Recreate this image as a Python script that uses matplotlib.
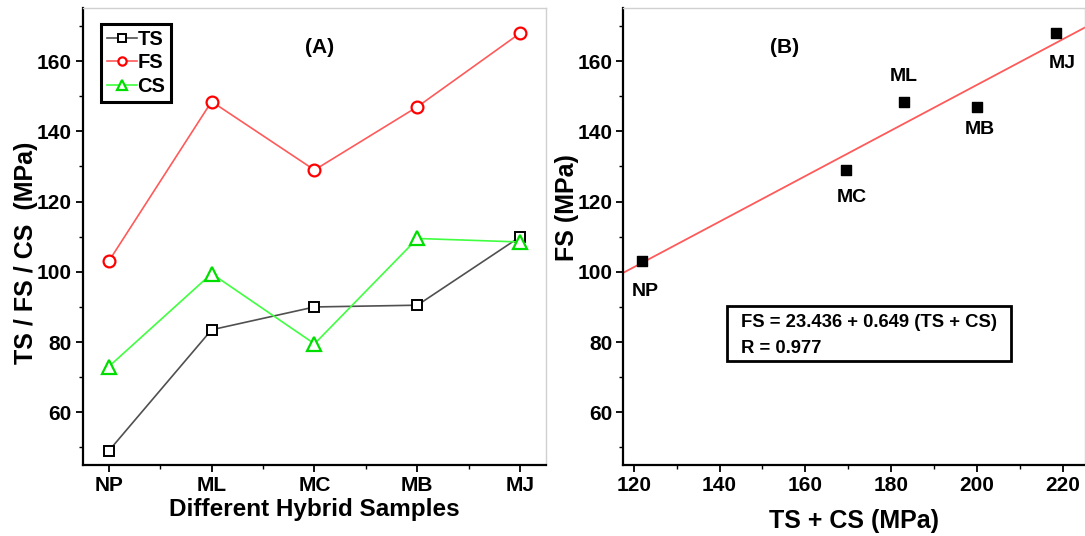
import numpy as np
import matplotlib.pyplot as plt
from matplotlib.ticker import MultipleLocator
from matplotlib.patches import Rectangle

plt.rcParams['font.family'] = ['Liberation Sans', 'DejaVu Sans']
plt.rcParams['font.weight'] = 'bold'

# data
samples = ["NP", "ML", "MC", "MB", "MJ"]
ts = [49, 83.5, 90, 90.5, 110]
fs = [103, 148.5, 129, 147, 168]
cs = [73, 99.5, 79.5, 109.5, 108.5]
fit_a, fit_b = 23.436, 0.649
fit_r = 0.977

ts_cs = np.array(ts) + np.array(cs)

fig = plt.figure(figsize=(10.85, 5.36), dpi=100)
ax1 = fig.add_axes([0.0765, 0.1325, 0.4267, 0.8517])
ax2 = fig.add_axes([0.5746, 0.1325, 0.4250, 0.8517])


def style(ax):
    for s in ["left", "bottom"]:
        ax.spines[s].set_linewidth(1.6)
    for s in ["top", "right"]:
        ax.spines[s].set_color("#d0d0d0")
        ax.spines[s].set_linewidth(1.0)
    ax.tick_params(which="major", direction="out", length=5, width=1.3,
                   labelsize=15, top=False, right=False, pad=3)
    ax.tick_params(which="minor", direction="out", length=3, width=1.0,
                   top=False, right=False)
    for lab in ax.get_xticklabels() + ax.get_yticklabels():
        lab.set_fontweight("bold")


# (A)
x = np.arange(len(samples))
ax1.plot(x, ts, color="#505050", lw=1.2, marker="s", ms=7.5, mfc="white",
         mec="black", mew=1.4, label="TS")
ax1.plot(x, fs, color="#ff5a5a", lw=1.2, marker="o", ms=8.5, mfc="white",
         mec="red", mew=1.6, label="FS")
ax1.plot(x, cs, color="#40ff40", lw=1.2, marker="^", ms=9.5, mfc="white",
         mec="#00dd00", mew=1.6, label="CS")
ax1.set_xlim(-0.25, 4.25)
ax1.set_ylim(45, 175)
ax1.set_xticks(x)
ax1.set_xticklabels(samples)
ax1.xaxis.set_minor_locator(MultipleLocator(0.5))
ax1.yaxis.set_major_locator(MultipleLocator(20))
ax1.yaxis.set_minor_locator(MultipleLocator(10))
ax1.set_xlabel("Different Hybrid Samples", fontsize=17.5, fontweight="bold",
               labelpad=2)
ax1.set_ylabel("TS / FS / CS  (MPa)", fontsize=18, fontweight="bold")
ax1.yaxis.set_label_coords(-0.097, 0.465)
style(ax1)
leg = ax1.legend(loc="upper left", bbox_to_anchor=(0.039, 0.966), fontsize=14.5,
                 handlelength=1.5, handletextpad=0.0, borderpad=0.3,
                 borderaxespad=0.0, labelspacing=0.22, fancybox=False,
                 edgecolor="black", framealpha=1, markerscale=0.7)
leg.get_frame().set_linewidth(2.2)
for t in leg.get_texts():
    t.set_fontweight("bold")
ax1.text(0.51, 0.915, "(A)", transform=ax1.transAxes, fontsize=15,
         fontweight="bold", ha="center", va="center")

# (B)
ax2.scatter(ts_cs, fs, marker="s", s=55, color="black", zorder=3)
xf = np.array([110, 240])
ax2.plot(xf, fit_a + fit_b * xf, color="#ff5a5a", lw=1.3)
ax2.set_xlim(117.6, 225.1)
ax2.set_ylim(45, 175)
ax2.xaxis.set_major_locator(MultipleLocator(20))
ax2.xaxis.set_minor_locator(MultipleLocator(10))
ax2.yaxis.set_major_locator(MultipleLocator(20))
ax2.yaxis.set_minor_locator(MultipleLocator(10))
ax2.set_xlabel("TS + CS (MPa)", fontsize=18, fontweight="bold", labelpad=10)
ax2.set_ylabel("FS (MPa)", fontsize=18, fontweight="bold")
ax2.yaxis.set_label_coords(-0.096, 0.564)
style(ax2)

offsets = {"NP": (2, -22), "ML": (0, 18), "MC": (4, -20), "MB": (2, -16),
           "MJ": (4, -22)}
for name, xv, yv in zip(samples, ts_cs, fs):
    dx, dy = offsets[name]
    ax2.annotate(name, (xv, yv), xytext=(dx, dy), textcoords="offset points",
                 ha="center", va="center", fontsize=14, fontweight="bold")

ax2.text(0.35, 0.915, "(B)", transform=ax2.transAxes, fontsize=15,
         fontweight="bold", ha="center", va="center")
ax2.add_patch(Rectangle((0.2247, 0.228), 0.616, 0.12, transform=ax2.transAxes,
                        fc="white", ec="black", lw=2.0, zorder=4))
ax2.text(0.255, 0.313, f"FS = {fit_a} + {fit_b} (TS + CS)",
         transform=ax2.transAxes, fontsize=13.3, fontweight="bold",
         ha="left", va="center", zorder=5)
ax2.text(0.255, 0.256, f"R = {fit_r}",
         transform=ax2.transAxes, fontsize=13.3, fontweight="bold",
         ha="left", va="center", zorder=5)

fig.savefig("out.png", dpi=100)
